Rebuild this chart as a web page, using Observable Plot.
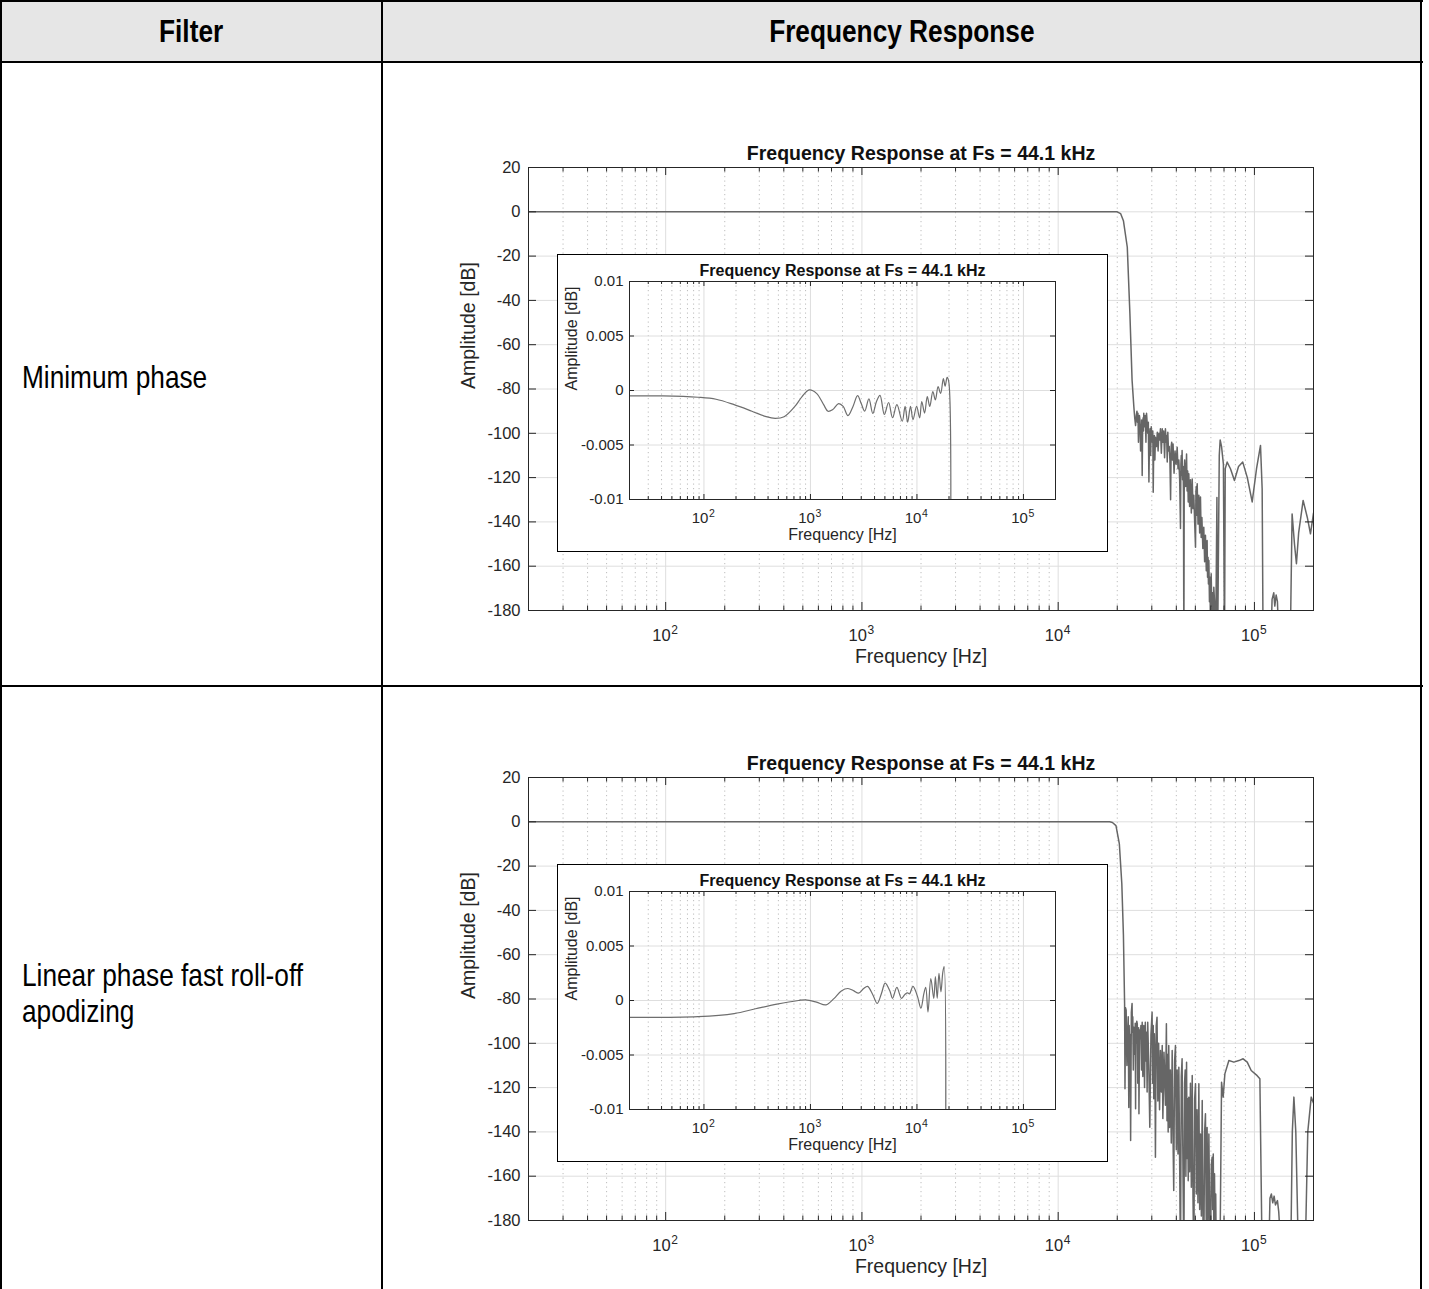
<!DOCTYPE html>
<html><head><meta charset="utf-8">
<script src="https://cdn.jsdelivr.net/npm/d3@7"></script>
<script src="https://cdn.jsdelivr.net/npm/@observablehq/plot@0.6"></script>
<style>
body{margin:0;background:#fff;}
#page{position:relative;width:1429px;height:1289px;overflow:hidden;background:#fff;}
.line{position:absolute;background:#000;}
.narrow{font-family:"Liberation Sans",Arial,sans-serif;color:#000;}
.narrow span{display:inline-block;transform:scaleX(0.82);}
.hdr{position:absolute;top:0;height:62px;line-height:62px;text-align:center;font-weight:bold;font-size:32px;}
.lbl{position:absolute;left:22px;font-size:32px;}
.lbl span{transform-origin:0 50%;white-space:pre;}
.insetbox{position:absolute;background:#fff;border:1.5px solid #000;box-sizing:border-box;}
</style></head><body><div id="page"></div>
<script>
// ---------- table text ----------
const headers = ["Filter", "Frequency Response"];
const filters = ["Minimum phase", "Linear phase fast roll-off\napodizing"];
const chartTitle = "Frequency Response at Fs = 44.1 kHz";
const xLabel = "Frequency [Hz]";
const yLabel = "Amplitude [dB]";

// ---------- ticks ----------
const xMajorTicks = [100, 1000, 10000, 100000];
const xMinorTicks = [30,40,50,60,70,80,90,200,300,400,500,600,700,800,900,
  2000,3000,4000,5000,6000,7000,8000,9000,20000,30000,40000,50000,60000,70000,80000,90000];
const mainYTicks = [-180,-160,-140,-120,-100,-80,-60,-40,-20,0,20];
const insetYTicks = [-0.01,-0.005,0,0.005,0.01];

// ---------- data: [frequency Hz, amplitude dB] ----------
const minPhaseResponse = [
  [20,0],[1000,0],[10000,0],[20000,0],[20800,-0.8],[21500,-4],[22500,-16],[23200,-46],[23800,-76],[24300,-88],
  [24550,-93],[24800,-96.5],[25000,-92],[25200,-90],[25350,-95],[25500,-91],[25650,-104],[25800,-97],[25950,-92],
  [26100,-94],[26300,-108],[26500,-100],[26650,-94],[26800,-119],[26950,-96],[27100,-93],[27200,-99],[27300,-91],
  [27550,-97],[27800,-92],[28000,-104],[28200,-91],[28400,-95],[28600,-100],[28800,-95],[29000,-122],[29200,-102],
  [29400,-98],[29600,-110],[29800,-97],[30000,-101],[30200,-104],[30350,-99],[30500,-126.6],[30700,-104],[30900,-101],
  [31100,-112],[31300,-101.8],[31650,-106],[32000,-99.5],[32300,-108],[32600,-100],[32900,-103],[33200,-98],
  [33550,-109],[33900,-98],[34200,-104],[34500,-99],[34850,-111],[35200,-98],[35450,-104],[35700,-101],[35950,-113],
  [36200,-99.5],[36500,-108],[36800,-106],[37100,-112],[37400,-130],[37650,-106],[37900,-104],[38200,-112],
  [38500,-104.8],[38950,-118],[39400,-108],[39900,-114],[40400,-106.3],[40800,-116],[41200,-112],[41600,-121],
  [42000,-143],[42200,-114],[42400,-110],[42600,-119],[42800,-107.8],[43050,-121],[43300,-115],[43500,-127],
  [43700,-200],[43900,-118],[44100,-112],[44600,-124],[45100,-109.3],[45400,-126],[45700,-117],[46000,-131],
  [46300,-118.3],[46750,-133],[47200,-121],[47700,-136],[48200,-120.6],[48650,-134],[49100,-128],[49600,-140],
  [50100,-151.4],[50350,-126],[50600,-124],[50850,-137],[51100,-122.8],[51600,-141],[52100,-128],[52600,-145],
  [53100,-128.8],[53550,-147],[54000,-138],[54600,-152],[55200,-142.4],[55750,-158],[56300,-146],[56850,-162],
  [57400,-148.4],[57700,-165],[58000,-156],[58300,-168],[58600,-157.4],[59000,-176],[59400,-165],[59800,-200],
  [60200,-163.4],[60650,-178],[61100,-172],[61600,-200],[62100,-169.5],[62800,-178],[63400,-200],[64400,-129],
  [64900,-200],[66200,-110],[66900,-103],[68000,-106],[69500,-114],[70400,-200],[71000,-116],[72600,-113],
  [75500,-116],[79100,-121.3],[83000,-115],[87200,-113],[92000,-120],[97400,-131],[102500,-116],[107400,-105.5],
  [109500,-125],[110800,-200],[121000,-200],[123000,-175],[125500,-172],[127000,-178],[129000,-173],[131000,-176],
  [134000,-200],[152000,-200],[155600,-136.4],[160000,-150],[163700,-158.9],[168000,-145],[177100,-130.3],
  [186000,-138],[193000,-145.4],[200000,-136]
];
const minPhaseInset = [
  [20,-0.0005],[41,-0.0005],[88,-0.00062],[130,-0.0008],[192,-0.0013],[282,-0.0019],[384,-0.0024],[467,-0.00255],
  [566,-0.0024],[714,-0.00146],[834,-0.00056],[973,0.00005],[1140,-0.00026],[1330,-0.0013],[1460,-0.0019],
  [1610,-0.00177],[1840,-0.0012],[2030,-0.00146],[2250,-0.0023],[2510,-0.00146],[2770,-0.00047],[3000,-0.0012],
  [3230,-0.0019],[3540,-0.00077],[3850,-0.0021],[4170,-0.001],[4500,-0.00044],[4940,-0.0022],[5420,-0.0011],
  [5900,-0.0025],[6480,-0.0013],[7280,-0.00282],[7740,-0.00146],[8180,-0.00291],[8700,-0.00146],[9190,-0.00267],
  [9930,-0.00146],[10600,-0.00252],[11100,-0.00101],[11800,-0.00207],[12500,-0.00056],[13200,-0.00146],
  [14100,-0.0001],[14900,-0.00086],[15800,0.00035],[16700,-0.00026],[17700,0.0011],[18400,0.0004],[19200,0.0012],
  [19900,0.0008],[20200,-0.03]
];
const apodResponse = [
  [20,0],[1000,0],[10000,0],[18300,0],[18900,-0.3],[19700,-1.7],[20500,-10],[21100,-28],[21500,-51],[21800,-82],
  [21900,-120.5],[22050,-84],[22200,-85],[22400,-110],[22600,-95],[22750,-88],[22900,-129],[23000,-92],[23100,-100],
  [23250,-96],[23400,-143.9],[23600,-86],[23800,-82],[23900,-95],[24000,-88],[24150,-112],[24300,-92.7],[24450,-98],
  [24600,-105],[24700,-91],[24800,-129.6],[24900,-95],[25000,-100],[25150,-90],[25300,-91.2],[25450,-118],
  [25600,-110],[25700,-93],[25800,-131.8],[26000,-94],[26200,-98],[26400,-92],[26600,-112],[26800,-90.5],
  [27000,-115],[27300,-92],[27550,-120],[27800,-90.5],[28000,-108],[28200,-95],[28400,-122],[28600,-90.5],
  [28950,-110],[29300,-137.9],[29700,-96],[30100,-86],[30300,-118],[30500,-92],[30700,-125],[30900,-95.7],
  [31100,-105],[31300,-151.4],[31600,-92],[31900,-88.2],[32200,-126],[32500,-100],[32850,-130],[33200,-103.3],
  [33550,-122],[33900,-101],[34150,-134],[34400,-120],[34600,-104],[34800,-110.8],[35200,-128],[35600,-91.2],
  [35850,-135],[36100,-105],[36350,-140],[36600,-101],[36950,-138],[37300,-112],[37700,-145],[38100,-103.3],
  [38450,-140],[38800,-166.5],[39200,-108],[39600,-101],[40000,-148],[40400,-112],[40800,-150],[41200,-110.8],
  [41600,-155],[42000,-200],[42400,-115],[42800,-107],[43250,-158],[43700,-200],[44050,-118],[44400,-112],
  [44750,-160],[45100,-108.5],[45400,-152],[45700,-125],[46000,-162],[46300,-124.3],[46750,-158],[47200,-118],
  [47700,-165],[48200,-114.5],[48650,-170],[49100,-200],[49600,-125],[50100,-118.3],[50550,-168],[51000,-130],
  [51550,-172],[52100,-118.3],[52600,-175],[53100,-140.9],[53650,-178],[54200,-125.8],[54700,-180],[55200,-200],
  [55750,-140],[56300,-131.8],[56850,-185],[57400,-138],[58000,-190],[58600,-140.9],[59150,-178],[59700,-200],
  [60300,-155],[60900,-151.4],[61300,-175],[61700,-150],[62150,-190],[62600,-158.9],[63050,-185],[63500,-168],
  [64000,-200],[66700,-200],[68000,-117.6],[69300,-124.3],[70700,-113.8],[74100,-107.8],[78600,-108.5],
  [83300,-107.8],[87600,-107],[91900,-108.5],[96300,-112.3],[103300,-114.6],[106600,-116],[109600,-200],
  [118000,-200],[120000,-170],[122000,-168],[124000,-172],[126000,-169],[128000,-173],[131000,-171],[133000,-176],
  [138000,-200],[152900,-200],[156000,-140],[158900,-124.3],[162500,-140],[168000,-200],[181000,-200],[187000,-140],
  [194700,-124.3],[200000,-127]
];
const apodInset = [
  [20,-0.00155],[88,-0.00148],[192,-0.0012],[305,-0.00076],[485,-0.00033],[772,0],[902,0.00006],[1140,-0.00015],
  [1400,-0.0004],[1670,0.0002],[1950,0.00088],[2250,0.0011],[2560,0.00088],[2830,0.00067],[3160,0.0011],
  [3440,0.0013],[3860,0.0005],[4240,-0.00027],[4650,0.00067],[5030,0.0016],[5560,0.0009],[5900,0.0002],
  [6480,0.0012],[7160,0.0002],[7740,0.00058],[8180,0.0007],[8500,0.0006],[9190,0.0013],[10100,0.0004],
  [10900,-0.0007],[11600,0.0006],[12100,0.0012],[12700,-0.00106],[13500,0.002],[14400,0.0002],[14900,0.0022],
  [15500,0.0002],[16100,0.0025],[16800,0.0008],[17500,0.0026],[18000,0.0031],[18300,-0.03]
];

// ---------- helpers ----------
const page = document.getElementById("page");
function place(el, left, top) {
  el.style.position = "absolute"; el.style.left = left + "px"; el.style.top = top + "px";
  page.appendChild(el); return el;
}
function div(cls, css, text) {
  const d = document.createElement("div"); d.className = cls;
  Object.assign(d.style, css);
  if (text != null) { const s = document.createElement("span"); s.textContent = text; d.appendChild(s); }
  page.appendChild(d); return d;
}

function frequencyChart(response, o) {
  const iw = o.W - o.mL - o.mR, ih = o.H - o.mT - o.mB;
  const data = response.map(([f, v]) => ({f, v}));
  const tk = "#262626";
  return Plot.plot({
    width: o.W, height: o.H, marginLeft: o.mL, marginTop: o.mT, marginRight: o.mR, marginBottom: o.mB,
    x: {type: "log", domain: [20, 200000], axis: null},
    y: {domain: o.yDomain, axis: null},
    style: {fontFamily: "'Liberation Sans', Arial, Helvetica, sans-serif", fontSize: o.tickFont + "px",
            color: tk, background: "transparent", overflow: "visible"},
    marks: [
      Plot.ruleX(xMinorTicks, {stroke: "#bcbcbc", strokeDasharray: "1.2,3.3"}),
      Plot.ruleX(xMajorTicks, {stroke: "#dedede"}),
      Plot.ruleY(o.yTicks, {stroke: "#dedede"}),
      Plot.line(data, {x: "f", y: "v", stroke: o.lineColor, strokeWidth: o.lineWidth, clip: true, curve: o.curve}),
      Plot.tickX(xMinorTicks, {insetTop: ih - o.minorLen, stroke: tk}),
      Plot.tickX(xMinorTicks, {insetBottom: ih - o.minorLen, stroke: tk}),
      Plot.tickX(xMajorTicks, {insetTop: ih - o.majorLen, stroke: tk}),
      Plot.tickX(xMajorTicks, {insetBottom: ih - o.majorLen, stroke: tk}),
      Plot.tickY(o.yTicks, {insetRight: iw - o.majorLen, stroke: tk}),
      Plot.tickY(o.yTicks, {insetLeft: iw - o.majorLen, stroke: tk}),
      Plot.frame({stroke: tk}),
      Plot.text(xMajorTicks, {x: d => d, text: () => "10", frameAnchor: "bottom", textAnchor: "end",
        dx: o.baseDx, dy: o.baseDy, fontSize: o.tickFont}),
      Plot.text(xMajorTicks, {x: d => d, text: d => String(Math.round(Math.log10(d))), frameAnchor: "bottom",
        textAnchor: "start", dx: o.expDx, dy: o.expDy, fontSize: o.expFont}),
      Plot.text(o.yTicks, {y: d => d, text: d => String(d), frameAnchor: "left", textAnchor: "end",
        dx: -o.yPad, fontSize: o.tickFont}),
      Plot.text([xLabel], {text: d => d, frameAnchor: "bottom", dy: o.xLabelDy, fontSize: o.labelFont}),
      Plot.text([yLabel], {text: d => d, frameAnchor: "left", dx: o.yLabelDx, rotate: -90, fontSize: o.labelFont}),
      Plot.text([chartTitle], {text: d => d, frameAnchor: "top", dy: o.titleDy, fontSize: o.titleFont, fontWeight: "bold", fill: "#111"})
    ]
  });
}

const mainOpts = {W: 900, H: 560, mL: 88, mT: 37, mR: 27, mB: 80, yDomain: [-180, 20], yTicks: mainYTicks,
  tickFont: 16.5, expFont: 12, labelFont: 19.5, titleFont: 19.5, lineColor: "#666", lineWidth: 1.5, curve: "linear",
  minorLen: 4.5, majorLen: 8, baseDx: 5, expDx: 5.5, baseDy: 30, expDy: 23, yPad: 8, xLabelDy: 52, yLabelDx: -60, titleDy: -21};
const insetOpts = {W: 550, H: 297, mL: 72, mT: 27, mR: 52, mB: 52, yDomain: [-0.01, 0.01], yTicks: insetYTicks,
  tickFont: 15, expFont: 10.5, labelFont: 16, titleFont: 16, lineColor: "#6e6e6e", lineWidth: 1.2, curve: "catmull-rom",
  minorLen: 3, majorLen: 5, baseDx: 4.5, expDx: 5, baseDy: 23.5, expDy: 17, yPad: 6, xLabelDy: 40, yLabelDx: -58, titleDy: -17};

// ---------- table ----------
div("", {position: "absolute", left: "0px", top: "0px", width: "1422px", height: "62px", background: "#e6e6e6"});
headers.forEach((h, i) => {
  const [l, w] = i === 0 ? [0, 382] : [382, 1040];
  div("hdr narrow", {left: l + "px", width: w + "px"}, h);
});
filters.forEach((f, i) => {
  div("lbl narrow", i === 0 ? {top: "359px", lineHeight: "37px"} : {top: "957px", lineHeight: "36px"}, f);
});
[[0,0,1423,2],[0,61,1423,2],[0,685,1423,2],[0,0,2,1289],[381,0,2,1289],[1420,0,2,1289]].forEach(([x,y,w,h]) =>
  div("line", {left: x + "px", top: y + "px", width: w + "px", height: h + "px"}));

// ---------- charts ----------
const rows = [[minPhaseResponse, minPhaseInset], [apodResponse, apodInset]];
rows.forEach(([resp, inset], i) => {
  const dy = i * 610;
  place(frequencyChart(resp, mainOpts), 440, 130 + dy);
  div("insetbox", {left: "557px", top: (254 + dy) + "px", width: "551px", height: "298px"});
  place(frequencyChart(inset, insetOpts), 557, 254 + dy);
});
</script></body></html>
